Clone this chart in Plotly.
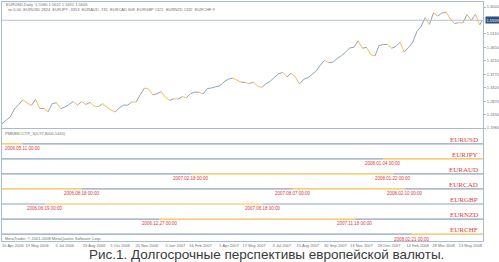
import pandas as pd
import plotly.graph_objects as go

# ---------------- data ----------------
price_start = "2006-04-07"
eurusd_weekly = [
    1.2120, 1.2240, 1.2350, 1.2620, 1.2760, 1.2920, 1.2810, 1.2730, 1.2930, 1.2630,
    1.2630, 1.2520, 1.2790, 1.2820, 1.2630, 1.2670, 1.2760, 1.2860, 1.2740, 1.2860,
    1.2760, 1.2830, 1.2710, 1.2690, 1.2790, 1.2680, 1.2580, 1.2510, 1.2650, 1.2740,
    1.2740, 1.2850, 1.2840, 1.3090, 1.3310, 1.3270, 1.3080, 1.3120, 1.3190,
    1.3000, 1.2900, 1.2950, 1.2940, 1.3020, 1.2990, 1.3120, 1.3170, 1.3170, 1.3110,
    1.3290, 1.3310, 1.3350, 1.3380, 1.3520, 1.3600, 1.3640, 1.3580, 1.3500, 1.3500,
    1.3450, 1.3510, 1.3370, 1.3330, 1.3450, 1.3530, 1.3660, 1.3780, 1.3830, 1.3680,
    1.3800, 1.3680, 1.3440, 1.3600, 1.3650, 1.3760, 1.3880, 1.4070, 1.4230, 1.4150,
    1.4170, 1.4290, 1.4380, 1.4500, 1.4640, 1.4660, 1.4880, 1.4630, 1.4660, 1.4420,
    1.4370, 1.4720,
    1.4750, 1.4760, 1.4630, 1.4690, 1.4830, 1.4500, 1.4650, 1.4820, 1.5180, 1.5350,
    1.5650, 1.5420, 1.5810, 1.5700, 1.5800, 1.5830, 1.5610, 1.5450, 1.5480, 1.5470,
    1.5750, 1.5550, 1.5760, 1.5400,
]
last_date = "2008-06-18"
last_price = 1.5559

price_ticks = [1.6000, 1.5110, 1.4650, 1.4210, 1.3770, 1.3320, 1.2870, 1.2430, 1.1980]

date_ticks = ["2006-04-10", "2006-05-19", "2006-07-05", "2006-08-23", "2006-10-05",
              "2006-11-20", "2007-01-05", "2007-02-16", "2007-04-05", "2007-05-17",
              "2007-07-03", "2007-08-15", "2007-09-30", "2007-11-13", "2007-12-28",
              "2008-02-14", "2008-03-28", "2008-05-13"]
date_tick_text = ["10 Apr 2006", "19 May 2006", "5 Jul 2006", "23 Aug 2006", "5 Oct 2006",
                  "20 Nov 2006", "5 Jan 2007", "16 Feb 2007", "5 Apr 2007", "17 May 2007",
                  "3 Jul 2007", "15 Aug 2007", "30 Sep 2007", "13 Nov 2007", "28 Dec 2007",
                  "14 Feb 2008", "28 Mar 2008", "13 May 2008"]

pairs = ["EURUSD", "EURJPY", "EURAUD", "EURCAD", "EURGBP", "EURNZD", "EURCHF"]
pair_start_orange = [True, False, False, True, False, False, False]
pair_switches = [
    ["2006-05-11"],
    ["2008-01-04"],
    ["2007-02-18", "2008-01-22"],
    ["2006-08-18", "2007-08-07", "2008-02-10"],
    ["2006-06-19", "2007-06-18"],
    ["2006-12-27", "2007-11-18"],
    ["2008-02-21"],
]

x_range = ["2006-04-07", "2008-06-19"]

# ---------------- styles ----------------
ORANGE = "#f5bd4f"
BLUE = "#8fa3bb"
BORDER = "#a8bbd0"
RED = "#e03a3a"
W, H = 499, 262
TINY = dict(size=4, color="#707070", family="Liberation Sans")


def py(px):
    return 1 - px / H


def trading_day(d):
    """Weekend dates sit inside the weekend range break; place them on the next Monday."""
    t = pd.Timestamp(d)
    if t.weekday() >= 5:
        t = t + pd.Timedelta(days=7 - t.weekday())
    return t.strftime("%Y-%m-%d")


dates = list(pd.date_range(price_start, periods=len(eurusd_weekly), freq="7D").strftime("%Y-%m-%d"))
dates.append(last_date)
vals = eurusd_weekly + [last_price]

up_x, up_y, dn_x, dn_y = [], [], [], []
for i in range(len(vals) - 1):
    if vals[i + 1] >= vals[i]:
        up_x += [dates[i], dates[i + 1], None]
        up_y += [vals[i], vals[i + 1], None]
    else:
        dn_x += [dates[i], dates[i + 1], None]
        dn_y += [vals[i], vals[i + 1], None]

fig = go.Figure()
fig.add_trace(go.Scatter(x=up_x, y=up_y, mode="lines", line=dict(color=BLUE, width=1),
                         xaxis="x", yaxis="y", hoverinfo="skip"))
fig.add_trace(go.Scatter(x=dn_x, y=dn_y, mode="lines", line=dict(color=ORANGE, width=1),
                         xaxis="x", yaxis="y", hoverinfo="skip"))

annotations = []
n = len(pairs)
for k, (name, start_orange, sw) in enumerate(zip(pairs, pair_start_orange, pair_switches)):
    yv = n - k
    bounds = [x_range[0]] + [trading_day(d) for d in sw] + [x_range[1]]
    orange = start_orange
    for a, b in zip(bounds[:-1], bounds[1:]):
        fig.add_trace(go.Scatter(x=[a, b], y=[yv, yv], mode="lines",
                                 line=dict(color=ORANGE if orange else BLUE, width=1.2),
                                 xaxis="x2", yaxis="y2", hoverinfo="skip"))
        orange = not orange
    for d in sw:
        annotations.append(dict(x=trading_day(d), y=yv - 0.33, xref="x2", yref="y2",
                                text=d.replace("-", ".") + " 00:00",
                                xanchor="center", yanchor="middle", showarrow=False,
                                font=dict(size=4.5, color=RED, family="Liberation Sans")))
    annotations.append(dict(x=480 / W, y=yv + 0.25, xref="paper", yref="y2", text=name,
                            xanchor="right", yanchor="middle",
                            showarrow=False, font=dict(size=7, color=RED, family="Liberation Serif")))

annotations += [
    dict(x=4 / W, y=py(4), xref="paper", yref="paper", xanchor="left", yanchor="middle",
         showarrow=False, font=TINY,
         text="EURUSD,Daily  1.5580 1.5622 1.5491 1.5606"),
    dict(x=6 / W, y=py(10), xref="paper", yref="paper", xanchor="left", yanchor="middle",
         showarrow=False, font=TINY,
         text="rw 0.00  EURUSD 2824  EURJPY -3353  EURAUD -745  EURCAD 608  EURGBP 1321  EURNZD 1332  EURCHF 9"),
    dict(x=3 / W, y=py(133), xref="paper", yref="paper", xanchor="left", yanchor="middle",
         showarrow=False, font=TINY,
         text="PMKBSCCYP_3(0,97,8000,1440)"),
    dict(x=3 / W, y=py(238.5), xref="paper", yref="paper", xanchor="left", yanchor="middle",
         showarrow=False, font=TINY,
         text="MetaTrader, © 2001-2008 MetaQuotes Software Corp."),
    dict(x=485 / W, y=last_price, xref="paper", yref="y", xanchor="left", yanchor="middle",
         showarrow=False, text=f"{last_price:.4f}", bgcolor="#2f4f7f", borderpad=0.5,
         font=dict(size=4, color="white", family="Liberation Sans")),
    dict(x=266 / W, y=py(254), xref="paper", yref="paper", xanchor="center", yanchor="middle",
         showarrow=False, borderpad=0,
         text="Рис.1. Долгосрочные перспективы европейской валюты.",
         font=dict(size=13.5, color="#3a3a3a", family="Liberation Sans")),
]

shapes = [dict(type="line", xref="x domain", yref="y", x0=0, x1=1, y0=last_price, y1=last_price,
               line=dict(color="#b4c2d2", width=1))]

xdom = [2 / W, 483 / W]
fig.update_layout(
    width=W, height=H, margin=dict(l=0, r=0, t=0, b=0, autoexpand=False),
    paper_bgcolor="white", plot_bgcolor="white", showlegend=False,
    annotations=annotations, shapes=shapes,
    xaxis=dict(domain=xdom, type="date", range=x_range, anchor="y", automargin=False,
               rangebreaks=[dict(bounds=["sat", "mon"])],
               showticklabels=False, showgrid=False, zeroline=False,
               showline=True, mirror=True, linecolor=BORDER, linewidth=1),
    yaxis=dict(domain=[py(128), py(2)], range=[1.198, 1.6166], side="right", anchor="x",
               automargin=False,
               tickvals=price_ticks, ticktext=[f"{v:.4f}" for v in price_ticks],
               tickfont=TINY, ticks="outside", ticklen=2, tickcolor=BORDER,
               showgrid=False, zeroline=False, showline=True, mirror=True,
               linecolor=BORDER, linewidth=1),
    xaxis2=dict(domain=xdom, type="date", range=x_range, anchor="y2", matches="x",
                automargin=False, tickangle=0,
                rangebreaks=[dict(bounds=["sat", "mon"])],
                tickmode="array",
                tickvals=[trading_day(d) for d in date_ticks], ticktext=date_tick_text,
                ticklabelshift=10, ticklabeloverflow="allow",
                tickfont=TINY, ticks="", ticklen=0,
                showgrid=False, zeroline=False, showline=True, mirror=True,
                linecolor=BORDER, linewidth=1),
    yaxis2=dict(domain=[py(241), py(129)], range=[0.539, 7.988], anchor="x2", side="right",
                automargin=False,
                showticklabels=False, showgrid=False, zeroline=False,
                showline=True, mirror=True, linecolor=BORDER, linewidth=1),
)

fig.write_html("out.html")
